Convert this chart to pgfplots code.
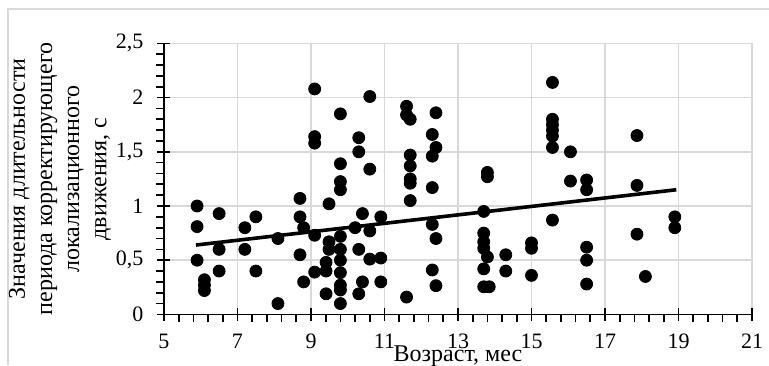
\documentclass[border=0pt]{standalone}
\usepackage{fontspec}
\setmainfont{Liberation Serif}
\usepackage{pgfplots}
\pgfplotsset{compat=1.18}
\definecolor{gridgray}{HTML}{D9D9D9}
\pgfplotstableread{
x y
5.9 1.0
5.9 0.81
5.9 0.5
6.1 0.32
6.1 0.27
6.1 0.22
6.5 0.93
6.5 0.6
6.5 0.4
7.2 0.8
7.2 0.6
7.5 0.9
7.5 0.4
8.1 0.7
8.1 0.1
8.7 1.07
8.7 0.9
8.7 0.55
8.8 0.8
8.8 0.3
9.1 2.08
9.1 1.64
9.1 1.58
9.1 0.73
9.1 0.39
9.49 1.02
9.49 0.67
9.49 0.6
9.41 0.48
9.41 0.4
9.41 0.19
9.8 1.85
9.8 1.39
9.8 1.225
9.8 1.15
9.8 0.72
9.8 0.6
9.8 0.5
9.8 0.385
9.8 0.27
9.8 0.225
9.8 0.1
10.3 1.63
10.3 1.5
10.3 0.6
10.3 0.19
10.2 0.8
10.4 0.93
10.4 0.3
10.6 2.01
10.6 1.34
10.6 0.77
10.6 0.51
10.9 0.9
10.9 0.52
10.9 0.3
11.6 1.92
11.6 1.84
11.6 0.16
11.7 1.8
11.7 1.47
11.7 1.37
11.7 1.25
11.7 1.21
11.7 1.05
12.3 1.66
12.3 1.46
12.3 1.17
12.3 0.83
12.3 0.41
12.4 1.86
12.4 1.54
12.4 0.7
12.4 0.265
13.8 1.31
13.8 1.27
13.8 0.53
13.7 0.95
13.7 0.75
13.7 0.67
13.7 0.61
13.7 0.42
13.7 0.255
13.85 0.255
14.3 0.55
14.3 0.4
15.0 0.66
15.0 0.61
15.0 0.36
15.57 2.14
15.57 1.8
15.57 1.75
15.57 1.7
15.57 1.645
15.57 1.54
15.57 0.87
16.06 1.5
16.06 1.23
16.5 1.24
16.5 1.15
16.5 0.62
16.5 0.5
16.5 0.28
17.87 1.65
17.87 1.19
17.87 0.74
18.1 0.35
18.9 0.9
18.9 0.8
}\scatterdata
\begin{document}
\begin{tikzpicture}
\useasboundingbox (-82pt,-25.35pt) rectangle (302.5pt,157.2pt);
\draw[gridgray, line width=0.75pt] (-78pt,-25.35pt) -- (-78pt,152.7pt) -- (302.5pt,152.7pt);
\begin{axis}[
  scale only axis, width=294pt, height=135.5pt,
  xmin=5, xmax=21, ymin=0, ymax=2.5,
  xtick={5,7,9,11,13,15,17,19,21},
  ytick={0,0.5,1,1.5,2,2.5},
  minor x tick num=4, minor y tick num=4,
  axis x line*=bottom, axis y line*=left,
  axis line style={black, line width=0.85pt, -},
  grid=major, major grid style={gridgray, line width=0.75pt},
  tick align=center, major tick length=6.5pt, minor tick length=4pt,
  tick style={black, line width=0.85pt},
  minor x tick style={yshift=-2pt}, minor y tick style={xshift=-2pt},
  ticklabel style={font=\fontsize{11}{13}\selectfont},
  xticklabel style={yshift=-3pt},
  yticklabel style={xshift=-3.5pt},
  /pgf/number format/assume math mode=true,
  /pgf/number format/use comma,
  /pgf/number format/1000 sep={},
  xlabel={Возраст, мес},
  xlabel style={at={(axis description cs:0.5,0)}, anchor=base, yshift=-23.5pt, font=\fontsize{12}{14}\selectfont},
  ylabel={Значения длительности\\периода корректирующего\\локализационного\\движения, с},
  ylabel style={at={(axis description cs:-0.1769,0.5)}, anchor=center, align=center, font=\fontsize{12}{13.6}\selectfont},
  clip=false,
]
\addplot[only marks, mark=*, mark size=3pt, black] table[x=x,y=y] {\scatterdata};
\addplot[black, line width=1.8pt, no marks] coordinates {(5.87,0.64) (18.94,1.15)};
\end{axis}
\end{tikzpicture}
\end{document}
